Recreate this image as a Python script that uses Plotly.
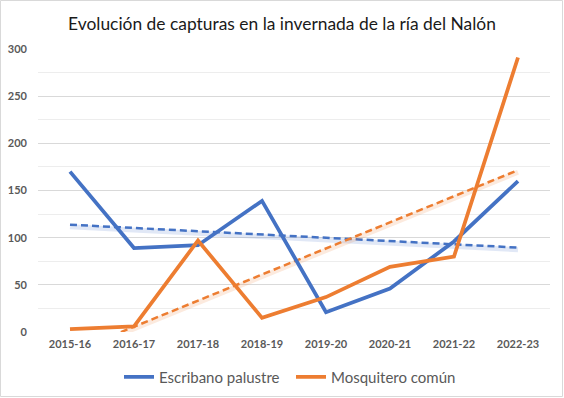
import numpy as np
import plotly.graph_objects as go

categories = ["2015-16", "2016-17", "2017-18", "2018-19", "2019-20", "2020-21", "2021-22", "2022-23"]
escribano = [170, 89, 92, 139, 21, 46, 96, 160]
mosquitero = [3, 6, 97, 15, 37, 69, 80, 291]
y_ticks = [0, 50, 100, 150, 200, 250, 300]

BLUE = "#4472C4"
ORANGE = "#ED7D31"
FONT = "Lato"

W, H = 564, 398
L, R, T, B = 38, 14, 49, 66

def trend(vals):
    x = np.arange(1, len(vals) + 1)
    m, c = np.polyfit(x, vals, 1)
    return list(m * x + c)

fig = go.Figure()

for vals, col, rgba in [(escribano, BLUE, "rgba(68,114,196,0.16)"),
                        (mosquitero, ORANGE, "rgba(237,125,49,0.16)")]:
    t = trend(vals)
    # soft glow under the trendline
    fig.add_trace(go.Scatter(x=categories, y=[v - 2.2 for v in t], mode="lines",
                             line=dict(color=rgba, width=5), showlegend=False,
                             hoverinfo="skip"))
    fig.add_trace(go.Scatter(x=categories, y=t, mode="lines",
                             line=dict(color=col, width=2.5, dash="7px,4px"),
                             showlegend=False, hoverinfo="skip"))

fig.add_trace(go.Scatter(x=categories, y=escribano, mode="lines", name="Escribano palustre",
                         line=dict(color=BLUE, width=3.75)))
fig.add_trace(go.Scatter(x=categories, y=mosquitero, mode="lines", name="Mosquitero común",
                         line=dict(color=ORANGE, width=3.75)))

pw = W - L - R
ph = H - T - B
fig.add_shape(type="rect", xref="paper", yref="paper",
              x0=-(L - 0.5) / pw, x1=1 + (R - 1.5) / pw,
              y0=-(B - 1.5) / ph, y1=1 + (T - 0.5) / ph,
              line=dict(color="#D9D9D9", width=1), fillcolor="rgba(0,0,0,0)", layer="below")

fig.update_layout(
    width=W, height=H,
    margin=dict(l=L, r=R, t=T, b=B, autoexpand=False),
    paper_bgcolor="white", plot_bgcolor="white",
    font=dict(family=FONT, color="#595959"),
    title=dict(text="Evolución de capturas en la invernada de la ría del Nalón",
               x=0.5, xref="container", xanchor="center", y=1 - 24 / H, yanchor="middle",
               font=dict(family=FONT, size=17.4, color="#1a1a1a")),
    xaxis=dict(type="category", categoryarray=categories, showgrid=False, showline=False,
               ticks="", tickfont=dict(size=11, color="#595959", weight="bold"), zeroline=False,
               range=[-0.5, len(categories) - 0.5], fixedrange=True, automargin=False,
               ticklabelstandoff=4),
    yaxis=dict(range=[0, 300], tickvals=y_ticks, showgrid=True, gridcolor="#D9D9D9",
               gridwidth=1, zeroline=False, showline=False, ticks="",
               tickfont=dict(size=11, color="#595959", weight="bold"), ticklabelstandoff=10,
               minor=dict(dtick=25, showgrid=True, gridcolor="#EDEDED", gridwidth=1),
               fixedrange=True, automargin=False),
    legend=dict(orientation="h", x=0.5 + 9 / W, xanchor="center", xref="container",
                y=21 / H, yanchor="middle", yref="container",
                font=dict(size=15, color="#595959"), itemwidth=30,
                entrywidth=127, entrywidthmode="pixels",
                traceorder="normal"),
    showlegend=True,
)

fig.write_html("out.html", post_script="document.body.style.margin='0px';",
               config={"displayModeBar": False})
